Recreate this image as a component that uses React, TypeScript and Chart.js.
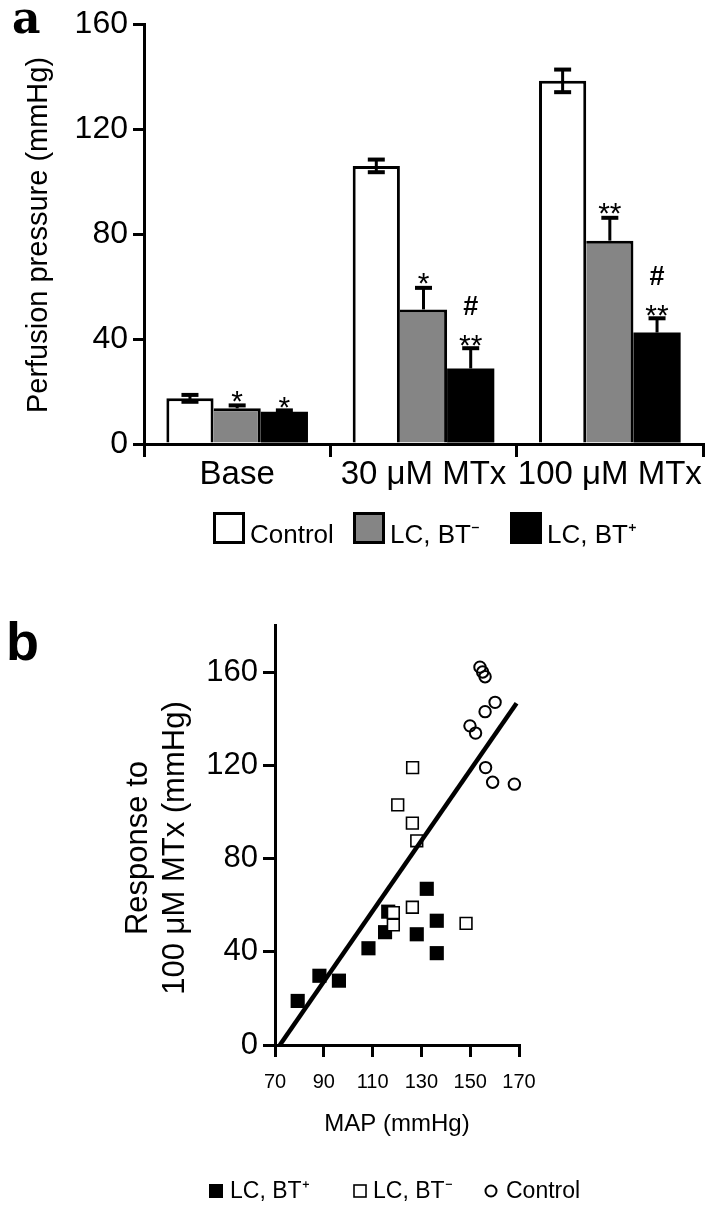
import React, { useEffect, useRef } from "react";
import { Chart, registerables } from "chart.js";

Chart.register(...registerables);

const FONT = "'Liberation Sans', Arial, Helvetica, sans-serif";

// ---------- Panel a data ----------
const categories = ["Base", "30 μM MTx", "100 μM MTx"];
const controlVals = [17.4, 106, 138.4];
const controlErr = [1.5, 2.6, 4.5];
const btMinusVals = [13.6, 51.3, 77.5];
const btMinusErr = [1.3, 8.4, 8.9];
const btPlusVals = [12.3, 28.8, 42.5];
const btPlusErr = [0.7, 7.9, 5.6];
const btMinusSig = ["*", "*", "**"];
const btPlusSig = ["*", "**", "**"];
const btPlusHash = ["", "#", "#"];
const barTicks = [0, 40, 80, 120, 160];
const barLegend = ["Control", "LC, BT⁻", "LC, BT⁺"];

// ---------- Panel b data ----------
const btPlusMAP = [79.3, 88.2, 96.2, 108.3, 115.1, 116.4, 132.2, 136.3, 128.1, 136.3];
const btPlusResp = [18.9, 29.7, 27.6, 41.5, 48.4, 57.2, 67, 53.3, 47.5, 39.4];
const btMinusMAP = [118.5, 118.5, 126.3, 148.3, 128.1, 126.4, 120.3, 126.3];
const btMinusResp = [56.8, 51.5, 59.1, 52.2, 87.6, 119, 103, 95.2];
const controlMAP = [154, 155.1, 156.1, 160.2, 156.1, 149.9, 152.2, 156.3, 159.2, 168.1];
const controlResp = [162.1, 160, 158, 147, 143, 136.9, 133.8, 119, 112.7, 111.9];
const fitMAP = [72, 169];
const fitResp = [0, 146.6];
const scatterXTicks = [70, 90, 110, 130, 150, 170];
const scatterYTicks = [0, 40, 80, 120, 160];
const scatterLegend = ["LC, BT⁺", "LC, BT⁻", "Control"];

const GREY = "#858585";

const toPts = (xs: number[], ys: number[]) => xs.map((x, i) => ({ x, y: ys[i] }));

const panelAPlugin = {
  id: "panelA",
  afterDatasetsDraw(chart: any) {
    const ctx = chart.ctx;
    const y = chart.scales.y;
    const sets = [
      { vals: controlVals, err: controlErr, both: true },
      { vals: btMinusVals, err: btMinusErr, both: false },
      { vals: btPlusVals, err: btPlusErr, both: false },
    ];
    ctx.save();
    ctx.fillStyle = "#000";
    const errTops: number[][] = [];
    sets.forEach((s, di) => {
      const meta = chart.getDatasetMeta(di);
      errTops[di] = [];
      meta.data.forEach((bar: any, j: number) => {
        const x = bar.x;
        const top = y.getPixelForValue(s.vals[j] + s.err[j]);
        const bot = s.both ? y.getPixelForValue(s.vals[j] - s.err[j]) : y.getPixelForValue(s.vals[j]);
        ctx.fillRect(x - 1.5, top, 3, bot - top);
        ctx.fillRect(x - 8.5, top - 1.5, 17, 4);
        if (s.both) ctx.fillRect(x - 8.5, bot - 2.5, 17, 4);
        errTops[di][j] = top;
      });
    });
    // significance marks
    ctx.textAlign = "center";
    ctx.textBaseline = "alphabetic";
    const m1 = chart.getDatasetMeta(1);
    const m2 = chart.getDatasetMeta(2);
    ctx.font = `30px ${FONT}`;
    m1.data.forEach((bar: any, j: number) => {
      if (btMinusSig[j]) ctx.fillText(btMinusSig[j], bar.x, errTops[1][j] - 11 + 17);
    });
    m2.data.forEach((bar: any, j: number) => {
      if (btPlusSig[j]) ctx.fillText(btPlusSig[j], bar.x, errTops[2][j] - 10 + 17);
    });
    ctx.font = `bold 27px ${FONT}`;
    m2.data.forEach((bar: any, j: number) => {
      if (btPlusHash[j]) ctx.fillText(btPlusHash[j], bar.x, errTops[2][j] - 42 + 9.5);
    });
    ctx.restore();
  },
  afterDraw(chart: any) {
    const ctx = chart.ctx;
    ctx.save();
    ctx.fillStyle = "#000";
    // panel letter
    ctx.font = `bold 44px 'DejaVu Serif', 'Liberation Serif', serif`;
    ctx.textAlign = "left";
    ctx.textBaseline = "alphabetic";
    ctx.fillText("a", 12, 33);
    // y title
    ctx.save();
    ctx.translate(47, 235);
    ctx.rotate(-Math.PI / 2);
    ctx.font = `29px ${FONT}`;
    ctx.textAlign = "center";
    ctx.fillText("Perfusion pressure (mmHg)", 0, 0);
    ctx.restore();
    // legend
    const fills = ["#fff", GREY, "#000"];
    const xs = [213, 353, 510];
    ctx.font = `26px ${FONT}`;
    ctx.textAlign = "left";
    barLegend.forEach((lab, i) => {
      ctx.fillStyle = fills[i];
      ctx.fillRect(xs[i], 512, 32, 32);
      ctx.strokeStyle = "#000";
      ctx.lineWidth = 3;
      ctx.strokeRect(xs[i] + 1.5, 513.5, 29, 29);
      ctx.fillStyle = "#000";
      ctx.fillText(lab, xs[i] + 37, 543);
    });
    ctx.restore();
  },
};

const panelBPlugin = {
  id: "panelB",
  afterDraw(chart: any) {
    const ctx = chart.ctx;
    ctx.save();
    ctx.fillStyle = "#000";
    ctx.font = `bold 54px ${FONT}`;
    ctx.textAlign = "left";
    ctx.textBaseline = "alphabetic";
    ctx.fillText("b", 6, 60);
    // y title (two lines)
    ctx.save();
    ctx.translate(0, 248);
    ctx.rotate(-Math.PI / 2);
    ctx.font = `31px ${FONT}`;
    ctx.textAlign = "center";
    ctx.fillText("Response to", 0, 147);
    ctx.fillText("100 μM MTx (mmHg)", 0, 184);
    ctx.restore();
    // x title
    const xa = chart.chartArea;
    ctx.font = `24px ${FONT}`;
    ctx.textAlign = "center";
    ctx.fillText("MAP (mmHg)", (xa.left + xa.right) / 2, 531);
    // legend
    ctx.font = `23px ${FONT}`;
    ctx.textAlign = "left";
    const cy = 591;
    ctx.fillRect(209, cy - 7, 14, 14);
    ctx.fillText(scatterLegend[0], 230, 598);
    ctx.strokeStyle = "#000";
    ctx.lineWidth = 1.6;
    ctx.strokeRect(354, cy - 6, 12, 12);
    ctx.fillText(scatterLegend[1], 373, 598);
    ctx.lineWidth = 2;
    ctx.beginPath();
    ctx.arc(491, cy, 5.5, 0, Math.PI * 2);
    ctx.stroke();
    ctx.fillText(scatterLegend[2], 506, 598);
    ctx.restore();
  },
};

export default function App() {
  const refA = useRef<HTMLCanvasElement>(null);
  const refB = useRef<HTMLCanvasElement>(null);

  useEffect(() => {
    Chart.defaults.font.family = FONT;
    Chart.defaults.color = "#000";

    const chartA = new Chart(refA.current!, {
      type: "bar",
      data: {
        labels: categories,
        datasets: [
          {
            label: barLegend[0],
            data: controlVals,
            backgroundColor: "#fff",
            borderColor: "#000",
            borderWidth: { top: 3, left: 3, right: 3, bottom: 0 },
            borderSkipped: "start",
            categoryPercentage: 0.76,
            barPercentage: 1,
          },
          {
            label: barLegend[1],
            data: btMinusVals,
            backgroundColor: GREY,
            borderColor: "#000",
            borderWidth: { top: 3, left: 0, right: 3, bottom: 0 },
            borderSkipped: "start",
            categoryPercentage: 0.76,
            barPercentage: 1,
          },
          {
            label: barLegend[2],
            data: btPlusVals,
            backgroundColor: "#000",
            borderColor: "#000",
            borderWidth: 0,
            categoryPercentage: 0.76,
            barPercentage: 1,
          },
        ],
      } as any,
      options: {
        responsive: false,
        animation: false,
        events: [],
        layout: { padding: { left: 0, right: 10, top: 24, bottom: 0 } },
        plugins: { legend: { display: false }, tooltip: { enabled: false } },
        scales: {
          x: {
            grid: {
              display: true,
              drawOnChartArea: false,
              drawTicks: true,
              tickLength: 13,
              lineWidth: 3,
              color: "#000",
              offset: true,
            },
            border: { display: true, color: "#000", width: 3 },
            ticks: {
              color: "#000",
              font: { family: FONT, size: 33, lineHeight: 1 },
              padding: 1,
              maxRotation: 0,
              autoSkip: false,
            },
            afterFit: (s: any) => {
              s.height = 146;
            },
          },
          y: {
            min: 0,
            max: 160,
            afterBuildTicks: (s: any) => {
              s.ticks = barTicks.map((v) => ({ value: v }));
            },
            grid: {
              drawOnChartArea: false,
              drawTicks: true,
              tickLength: 11,
              lineWidth: 3,
              color: "#000",
            },
            border: { display: true, color: "#000", width: 3 },
            ticks: { color: "#000", font: { family: FONT, size: 32 }, padding: 5 },
            afterFit: (s: any) => {
              s.width = 144;
            },
          },
        },
      } as any,
      plugins: [panelAPlugin],
    });

    const chartB = new Chart(refB.current!, {
      type: "scatter",
      data: {
        datasets: [
          {
            label: "fit",
            data: toPts(fitMAP, fitResp),
            showLine: true,
            borderColor: "#000",
            borderWidth: 4.5,
            pointRadius: 0,
            fill: false,
            clip: false,
          },
          {
            label: scatterLegend[1],
            data: toPts(btMinusMAP, btMinusResp),
            pointStyle: "rect",
            pointRadius: 8.3,
            backgroundColor: "#fff",
            borderColor: "#000",
            borderWidth: 1.6,
            clip: false,
          },
          {
            label: scatterLegend[2],
            data: toPts(controlMAP, controlResp),
            pointStyle: "circle",
            pointRadius: 5.7,
            backgroundColor: "rgba(0,0,0,0)",
            borderColor: "#000",
            borderWidth: 2,
            clip: false,
          },
          {
            label: scatterLegend[0],
            data: toPts(btPlusMAP, btPlusResp),
            pointStyle: "rect",
            pointRadius: 10,
            backgroundColor: "#000",
            borderColor: "#000",
            borderWidth: 0,
            clip: false,
          },
        ],
      } as any,
      options: {
        responsive: false,
        animation: false,
        events: [],
        layout: { padding: { left: 0, right: 194, top: 25.4, bottom: 0 } },
        plugins: { legend: { display: false }, tooltip: { enabled: false } },
        scales: {
          x: {
            type: "linear",
            min: 70,
            max: 170,
            afterBuildTicks: (s: any) => {
              s.ticks = scatterXTicks.map((v) => ({ value: v }));
            },
            grid: {
              drawOnChartArea: false,
              drawTicks: true,
              tickLength: 12,
              lineWidth: 3,
              color: "#000",
            },
            border: { display: true, color: "#000", width: 3 },
            ticks: {
              color: "#000",
              font: { family: FONT, size: 20, lineHeight: 1 },
              padding: 15,
              maxRotation: 0,
              autoSkip: false,
            },
            afterFit: (s: any) => {
              s.height = 177;
            },
          },
          y: {
            type: "linear",
            min: 0,
            max: 180,
            afterBuildTicks: (s: any) => {
              s.ticks = scatterYTicks.map((v) => ({ value: v }));
            },
            grid: {
              drawOnChartArea: false,
              drawTicks: true,
              tickLength: 12,
              lineWidth: 3,
              color: "#000",
            },
            border: { display: true, color: "#000", width: 3 },
            ticks: { color: "#000", font: { family: FONT, size: 31 }, padding: 5 },
            afterFit: (s: any) => {
              s.width = 275;
            },
          },
        },
      } as any,
      plugins: [panelBPlugin],
    });

    return () => {
      chartA.destroy();
      chartB.destroy();
    };
  }, []);

  return (
    <div style={{ position: "absolute", left: 0, top: 0, width: 713, height: 1222, background: "#fff", overflow: "hidden" }}>
      <canvas
        ref={refA}
        width={713}
        height={590}
        style={{ position: "absolute", left: 0, top: 0, width: 713, height: 590 }}
      />
      <canvas
        ref={refB}
        width={713}
        height={622}
        style={{ position: "absolute", left: 0, top: 600, width: 713, height: 622 }}
      />
    </div>
  );
}
